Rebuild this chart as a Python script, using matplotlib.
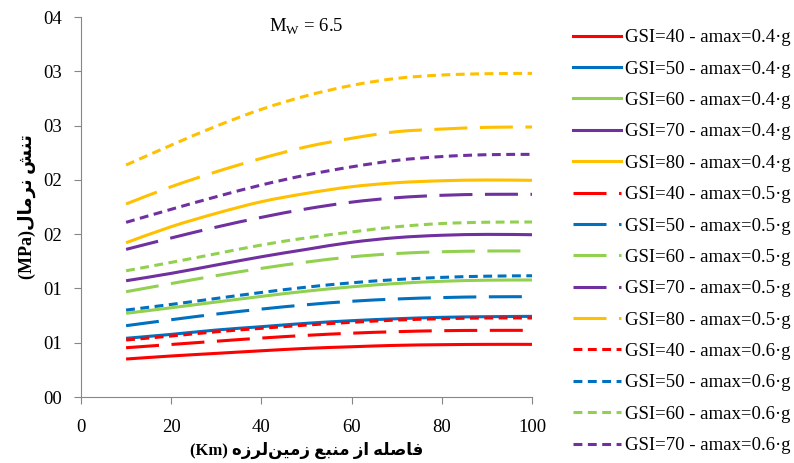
import matplotlib
matplotlib.use('Agg')
import matplotlib.pyplot as plt
from matplotlib.path import Path
from matplotlib.patches import PathPatch
from matplotlib.lines import Line2D

plt.rcParams['font.family'] = ['Liberation Serif', 'DejaVu Sans']
plt.rcParams['mathtext.fontset'] = 'custom'
plt.rcParams['mathtext.rm'] = 'Liberation Serif'

# distance from source (km)
dist = [10, 20, 30, 40, 50, 60, 70, 80, 90, 100]

# normal stress, amax = 0.4g
s40_04 = [0.00350, 0.00378, 0.00402, 0.00426, 0.00448, 0.00463, 0.00476, 0.00482, 0.00485, 0.00485]
s50_04 = [0.00541, 0.00577, 0.00617, 0.00648, 0.00679, 0.00703, 0.00721, 0.00734, 0.00740, 0.00743]
s60_04 = [0.00771, 0.00822, 0.00875, 0.00927, 0.00975, 0.01015, 0.01046, 0.01066, 0.01076, 0.01078]
s70_04 = [0.01071, 0.01139, 0.01216, 0.01292, 0.01360, 0.01425, 0.01468, 0.01490, 0.01498, 0.01495]
s80_04 = [0.01421, 0.01569, 0.01692, 0.01799, 0.01876, 0.01937, 0.01974, 0.01992, 0.01999, 0.01996]
# amax = 0.5g
s40_05 = [0.00454, 0.00484, 0.00514, 0.00543, 0.00568, 0.00588, 0.00602, 0.00611, 0.00614, 0.00614]
s50_05 = [0.00657, 0.00712, 0.00764, 0.00810, 0.00850, 0.00882, 0.00903, 0.00916, 0.00923, 0.00924]
s60_05 = [0.00970, 0.01045, 0.01118, 0.01185, 0.01243, 0.01291, 0.01322, 0.01338, 0.01345, 0.01345]
s70_05 = [0.01360, 0.01465, 0.01565, 0.01655, 0.01733, 0.01795, 0.01836, 0.01858, 0.01867, 0.01867]
s80_05 = [0.01778, 0.01937, 0.02075, 0.02198, 0.02305, 0.02383, 0.02444, 0.02468, 0.02484, 0.02487]
# amax = 0.6g
s40_06 = [0.00525, 0.00562, 0.00601, 0.00633, 0.00663, 0.00688, 0.00709, 0.00721, 0.00728, 0.00728]
s50_06 = [0.00801, 0.00853, 0.00908, 0.00963, 0.01012, 0.01052, 0.01082, 0.01102, 0.01113, 0.01117]
s60_06 = [0.01163, 0.01240, 0.01320, 0.01400, 0.01466, 0.01520, 0.01568, 0.01598, 0.01610, 0.01612]
s70_06 = [0.01609, 0.01729, 0.01845, 0.01953, 0.02045, 0.02120, 0.02180, 0.02215, 0.02232, 0.02235]
s80_06 = [0.02137, 0.02320, 0.02495, 0.02650, 0.02775, 0.02870, 0.02935, 0.02966, 0.02978, 0.02981]

gsi = [40, 50, 60, 70, 80]
amax = ['0.4', '0.5', '0.6']
series = [
    [s40_04, s50_04, s60_04, s70_04, s80_04],
    [s40_05, s50_05, s60_05, s70_05, s80_05],
    [s40_06, s50_06, s60_06, s70_06, s80_06],
]
colors = ['#FF0000', '#0070C0', '#92D050', '#7030A0', '#FFC000']
styles = ['-', (0, (10.8, 4.1)), (0, (2.9, 1.8))]

yticks = [0, 0.005, 0.010, 0.015, 0.020, 0.025, 0.030, 0.035]
ytick_labels = ['00', '01', '01', '02', '02', '03', '03', '04']

# letter forms: isolated, final, initial, medial
FORMS = {
    'ا': ('\uFE8D', '\uFE8E', None, None),
    'ب': ('\uFE8F', '\uFE90', '\uFE91', '\uFE92'),
    'ت': ('\uFE95', '\uFE96', '\uFE97', '\uFE98'),
    'ر': ('\uFEAD', '\uFEAE', None, None),
    'ز': ('\uFEAF', '\uFEB0', None, None),
    'ش': ('\uFEB5', '\uFEB6', '\uFEB7', '\uFEB8'),
    'ص': ('\uFEB9', '\uFEBA', '\uFEBB', '\uFEBC'),
    'ع': ('\uFEC9', '\uFECA', '\uFECB', '\uFECC'),
    'ف': ('\uFED1', '\uFED2', '\uFED3', '\uFED4'),
    'ل': ('\uFEDD', '\uFEDE', '\uFEDF', '\uFEE0'),
    'م': ('\uFEE1', '\uFEE2', '\uFEE3', '\uFEE4'),
    'ن': ('\uFEE5', '\uFEE6', '\uFEE7', '\uFEE8'),
    'ه': ('\uFEE9', '\uFEEA', '\uFEEB', '\uFEEC'),
    'ی': ('\uFBFC', '\uFBFD', '\uFBFE', '\uFBFF'),
}


def rtl(text):
    # join letters and put them in visual (left to right) order
    out = []
    for i, ch in enumerate(text):
        if ch not in FORMS:
            if ch != '\u200c':
                out.append(ch)
            continue
        prev = text[i - 1] if i > 0 else ''
        nxt = text[i + 1] if i + 1 < len(text) else ''
        jp = prev in FORMS and FORMS[prev][2] is not None
        jn = nxt in FORMS and FORMS[ch][2] is not None
        iso, fin, ini, med = FORMS[ch]
        if jp and jn:
            out.append(med)
        elif jp:
            out.append(fin)
        elif jn:
            out.append(ini)
        else:
            out.append(iso)
    return ''.join(out)[::-1]


def smooth_path(x, y):
    # smoothed line like Excel: bezier segments through the points
    pts = list(zip(x, y))
    n = len(pts)
    verts = [pts[0]]
    codes = [Path.MOVETO]
    for i in range(n - 1):
        p0 = pts[max(i - 1, 0)]
        p1 = pts[i]
        p2 = pts[i + 1]
        p3 = pts[min(i + 2, n - 1)]
        c1 = (p1[0] + (p2[0] - p0[0]) / 6, p1[1] + (p2[1] - p0[1]) / 6)
        c2 = (p2[0] - (p3[0] - p1[0]) / 6, p2[1] - (p3[1] - p1[1]) / 6)
        verts += [c1, c2, p2]
        codes += [Path.CURVE4] * 3
    return Path(verts, codes)


fig = plt.figure(figsize=(7.94, 4.63), dpi=100)
ax = fig.add_axes([0.102, 0.1425, 0.568, 0.8207])

handles = []
labels = []
for j, a in enumerate(amax):
    for i, g in enumerate(gsi):
        ax.add_patch(PathPatch(smooth_path(dist, series[j][i]), fill=False,
                               edgecolor=colors[i], lw=2.2, linestyle=styles[j],
                               capstyle='butt', joinstyle='round'))
        handles.append(Line2D([], [], color=colors[i], lw=2.2, linestyle=styles[j]))
        labels.append('GSI=%d - amax=%s\u00b7g' % (g, a))

ax.set_xlim(0, 100)
ax.set_ylim(0, 0.035)
ax.set_xticks([0, 20, 40, 60, 80, 100])
ax.set_yticks(yticks)
ax.set_yticklabels(ytick_labels)
ax.tick_params(labelsize=13.5, length=5, color='#868686', direction='out')
ax.tick_params(axis='x', pad=11)
ax.tick_params(axis='y', pad=9)
for s in ['top', 'right']:
    ax.spines[s].set_visible(False)
for s in ['left', 'bottom']:
    ax.spines[s].set_color('#868686')

ax.text(0.5, 0.975, 'M$_\\mathrm{W}$ = 6.5', fontsize=13.5, transform=ax.transAxes,
        ha='center', va='center')
ax.set_xlabel('(Km) ' + rtl('فاصله از منبع زمین\u200cلرزه'), fontsize=12,
              fontweight='bold', labelpad=4)
ax.set_ylabel('(MPa)' + rtl('تنش نرمال'), fontsize=13, fontweight='bold',
              labelpad=5)

# the last entry falls below the picture in the original, so only 14 are listed
fig.legend(handles[:14], labels[:14], loc='upper left', bbox_to_anchor=(0.7217, 0.937),
           frameon=False, fontsize=13.5, handlelength=2.56, handletextpad=0.2,
           labelspacing=0.76, borderpad=0, borderaxespad=0)

fig.savefig('out.png', dpi=100)
